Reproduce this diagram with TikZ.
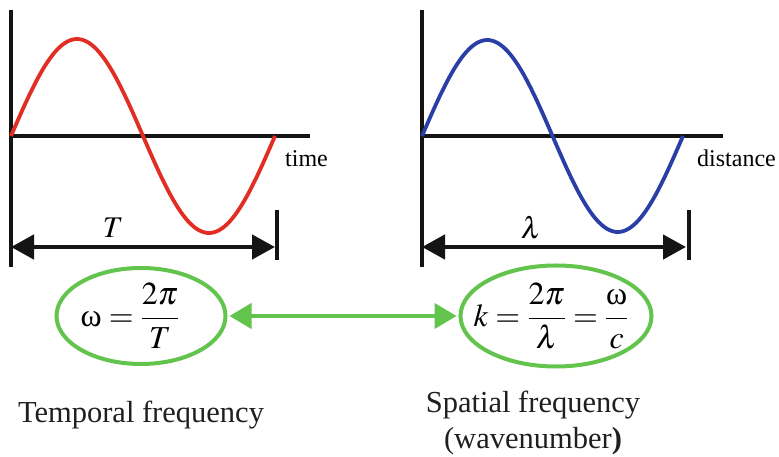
\documentclass[tikz,border=0pt]{standalone}
\usepackage{mathptmx}
\usepackage{fontspec}
\setmainfont{Liberation Serif}
\usetikzlibrary{positioning, arrows.meta, shapes.geometric}

\definecolor{waveRed}{RGB}{226,45,36}
\definecolor{waveBlue}{RGB}{42,62,168}
\definecolor{ringGreen}{RGB}{98,196,76}

\begin{document}
\begin{tikzpicture}[
  x=1pt, y=1pt,
  font=\fontsize{30}{36}\selectfont,
  axis/.style={draw=black!92, line width=4.5pt},
  wave/.style={draw=#1, line width=3.8pt, line join=round},
  span/.style={axis, {Triangle[length=23pt,width=24pt]}-{Triangle[length=23pt,width=24pt]}},
  link/.style={draw=ringGreen, line width=4pt, shorten <=2pt, shorten >=2pt,
    {Triangle[length=22pt,width=25pt]}-{Triangle[length=22pt,width=25pt]}},
  ring/.style={ellipse, draw=ringGreen, line width=4pt, inner sep=0pt,
    font=\fontsize{32}{38}\selectfont},
  axlab/.style={font=\fontsize{24}{28}\selectfont, inner sep=0pt, anchor=base west},
  caption/.style={inner sep=0pt, align=center, text=black!88,
    font=\fontsize{30.5}{36}\selectfont}
]

\useasboundingbox (0,0) rectangle (779,457);

% ── Temporal wave (left) ─────────────────────────────────────────────────────
\coordinate (oT) at (11,321);
\draw[axis] (11,447) -- (11,190);
\draw[axis] (oT) -- (310,321);
\draw[wave=waveRed, shift={(oT)}]
  plot[domain=0:264, samples=90, smooth] (\x, {97*sin(\x/264*360)});
\node[axlab] (timelab) at (285,290) {time};

\draw[span] (11,210) -- (275,210);
\draw[axis] (277,247) -- (277,197);
\node (Tlab) at (113,229) {$T$};

% ── Spatial wave (right) ─────────────────────────────────────────────────────
\coordinate (oS) at (422,321);
\draw[axis] (422,447) -- (422,190);
\draw[axis] (oS) -- (723,321);
\draw[wave=waveBlue, shift={(oS)}]
  plot[domain=0:261, samples=90, smooth] (\x, {96*sin(\x/261*360)});
\node[axlab] (distlab) at (697,290) {distance};

\draw[span] (422,210) -- (686,210);
\draw[axis] (689,247) -- (689,197);
\node (lamlab) at (531,229) {$\lambda$};

% ── Formulas ─────────────────────────────────────────────────────────────────
\node[ring, minimum width=169pt, minimum height=96pt] (wL) at (141,141)
  {\makebox[0pt]{\hspace*{-22pt}$\displaystyle \mbox{ω} = \frac{2\pi}{T}$}};
\node[ring, minimum width=191pt, minimum height=101pt] (wR) at (556,141)
  {\makebox[0pt]{\hspace*{-10pt}$\displaystyle k = \frac{2\pi}{\lambda} = \frac{\mbox{ω}}{c}$}};

\draw[link] (wL) -- (wR);

% ── Captions ─────────────────────────────────────────────────────────────────
\node[caption, below=35pt of wL] (templab) {Temporal frequency};
\node[caption, below=22pt of wR, xshift=-23pt] (spatlab)
  {Spatial frequency\\(wavenumber\textbf{)}};

\end{tikzpicture}
\end{document}
